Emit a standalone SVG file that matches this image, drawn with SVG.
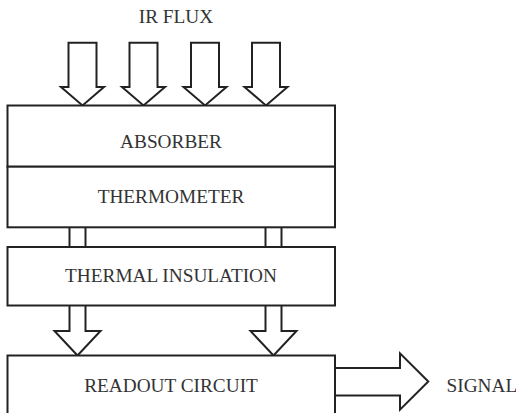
<svg xmlns="http://www.w3.org/2000/svg" width="516" height="413" viewBox="0 0 516 413">
<style>
.box{fill:#fff;stroke:#222;stroke-width:2}
.arr{fill:#fff;stroke:#222;stroke-width:2;stroke-linejoin:miter}
.ln{fill:none;stroke:#222;stroke-width:2}
text{font-family:'Liberation Serif','DejaVu Serif',serif;font-size:19.3px;fill:#333}
</style>
<rect width="516" height="413" fill="#fff"/>
<text x="176" y="23.3" text-anchor="middle" font-family="Liberation Serif, serif">IR FLUX</text>
<g id="connectors">
  <path class="arr" d="M68.5,42.7 H96.5 V87 H104 L82.5,105.5 L61,87 H68.5 Z"/>
  <path class="arr" d="M129.5,42.7 H157.5 V87 H165 L143.5,105.5 L122,87 H129.5 Z"/>
  <path class="arr" d="M191,42.7 H219 V87 H226.5 L205,105.5 L183.5,87 H191 Z"/>
  <path class="arr" d="M252,42.7 H280 V87 H287.5 L266,105.5 L244.5,87 H252 Z"/>
  <path class="ln" d="M69.5,227.3 V247 M85.5,227.3 V247 M265.5,227.3 V247 M281.5,227.3 V247"/>
  <path class="arr" d="M69.5,305.5 V331 H54.5 L77.5,355.5 L100.5,331 H85.5 V305.5"/>
  <path class="arr" d="M265.5,305.5 V331 H250.5 L273.5,355.5 L296.5,331 H281.5 V305.5"/>
  <path class="arr" d="M335,368 H400 V353.3 L428.3,381.5 L400,409.7 V395.5 H335"/>
</g>
<g id="absorber">
  <rect class="box" x="7.5" y="105.5" width="327.5" height="61.2"/>
  <text x="171" y="147.5" text-anchor="middle">ABSORBER</text>
</g>
<g id="thermometer">
  <rect class="box" x="7.5" y="166.7" width="327.5" height="60.6"/>
  <text x="171" y="203.3" text-anchor="middle">THERMOMETER</text>
</g>
<g id="thermal-insulation">
  <rect class="box" x="7.5" y="247" width="327.5" height="58.5"/>
  <text x="171" y="281.7" text-anchor="middle">THERMAL INSULATION</text>
</g>
<g id="readout-circuit">
  <path class="box" d="M7.5,420 V355.5 H335 V420"/>
  <text x="171" y="391.7" text-anchor="middle">READOUT CIRCUIT</text>
</g>
<g id="signal">
  <text x="446.5" y="391.7">SIGNAL</text>
</g>
</svg>
